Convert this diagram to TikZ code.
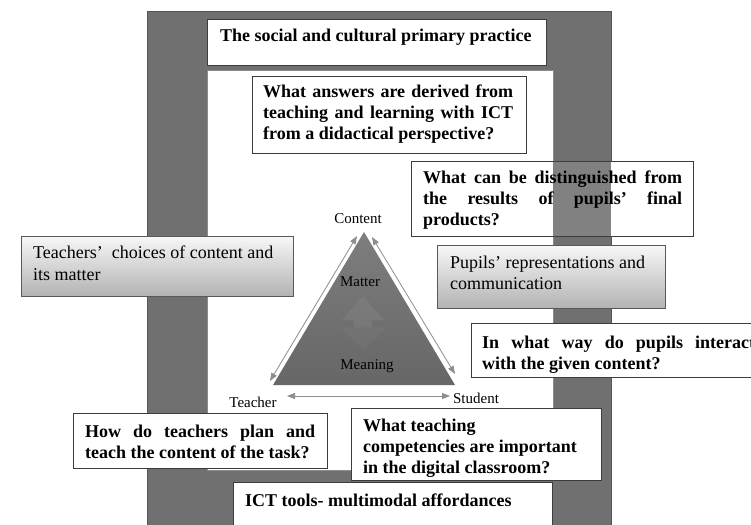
\documentclass[tikz,border=0pt]{standalone}
\usepackage{fontspec}
\setmainfont{Liberation Serif}
\usetikzlibrary{arrows.meta,fit}

\definecolor{framegray}{HTML}{707070}
\definecolor{frameline}{HTML}{555555}
\definecolor{boxline}{HTML}{3C3C3C}
\definecolor{arrowgray}{HTML}{8E8E8E}
\definecolor{trianglegray}{HTML}{6C6C6C}

% a line stretched to a given width (justified line)
\newcommand\fullline[2]{\makebox[#1][s]{#2}}

\tikzset{
  panel/.style={draw=boxline, line width=0.9pt, fill=white, inner sep=0pt},
  shadedpanel/.style={draw=boxline!85, line width=0.9pt, inner sep=0pt,
    top color=white!97!black, bottom color=black!30},
  boldtext/.style={font=\fontsize{18}{21}\selectfont\bfseries, inner sep=0pt, align=left, anchor=north west},
  plaintext/.style={font=\fontsize{18}{21.5}\selectfont, inner sep=0pt, align=left, anchor=north west},
  cornerlabel/.style={font=\fontsize{15}{17}\selectfont, inner sep=0pt},
  twoway/.style={draw=arrowgray, line width=0.8pt,
    {Triangle[length=8pt,width=6pt]}-{Triangle[length=8pt,width=6pt]}},
}

\begin{document}
\begin{tikzpicture}[x=1pt,y=-1pt]
\useasboundingbox (0,0) rectangle (751,524);

% outer grey frame and inner white field
\node[fit={(147,12) (611,545)}, fill=framegray, draw=frameline, line width=1pt, inner sep=0pt] (frame) {};
\node[fit={(207,70) (553,470)}, fill=white, draw=black!45, line width=0.8pt, inner sep=0pt] (field) {};

% title bar
\node[panel, fit={(207,19) (546,65)}] (titlebox) {};
\node[font=\fontsize{18}{21}\selectfont\bfseries, inner sep=0pt, anchor=base west] (titletext) at (220,41.5)
  {The social and cultural primary practice};

% question: answers from a didactical perspective
\node[panel, fit={(252,76) (526,153)}] (answersbox) {};
\node[boldtext] (answerstext) at (263,84.7)
  {\fullline{250pt}{What answers are derived from}\\
   \fullline{250pt}{teaching and learning with ICT}\\
   from a didactical perspective?};

% question: pupils' final products (partly covered by the frame)
\node[panel, fit={(411,161) (693,236)}] (productsbox) {};
\fill[framegray, opacity=0.88] (553,161.5) rectangle (611,235.5);
\node[boldtext] (productstext) at (423,170.7)
  {\fullline{259pt}{What can be distinguished from}\\
   \fullline{259pt}{the results of pupils’ final}\\
   products?};

% teachers' choices
\node[shadedpanel, fit={(21,236) (293,296)}] (choicesbox) {};
\node[plaintext] (choicestext) at (33,246)
  {Teachers’\ \ choices of content and\\its matter};

% pupils' representations
\node[shadedpanel, fit={(437,245) (665,308)}] (reprbox) {};
\node[plaintext] (reprtext) at (450,255.8)
  {Pupils’ representations and\\communication};

% pupils' interaction
\node[panel, fit={(471,323) (790,377)}] (interactbox) {};
\node[boldtext] (interacttext) at (482,335.7)
  {\fullline{273pt}{In what way do pupils interact}\\
   with the given content?};

% didactic triangle
\coordinate (apex) at (364,232);
\coordinate (baseL) at (273,385);
\coordinate (baseR) at (455,385);
\shade[top color=trianglegray!88!white, bottom color=trianglegray!95!black]
  (apex) -- (baseL) -- (baseR) -- cycle;

% faint two-way arrow inside the triangle
\fill[white, opacity=0.06]
  (363,296) -- (384,320) -- (372,320) -- (372,327) -- (354,327) -- (354,320) -- (342,320) -- cycle;
\fill[white, opacity=0.03]
  (354,327) -- (340,327) -- (363,350) -- (386,327) -- (372,327) -- cycle;

\node[cornerlabel] (content) at (358,219) {Content};
\node[cornerlabel] (matter) at (360,282) {Matter};
\node[cornerlabel] (meaning) at (367,366) {Meaning};
\node[cornerlabel] (teacher) at (253,402) {Teacher};
\node[cornerlabel] (student) at (476,398) {Student};

% two-way arrows along the sides
\coordinate (leftTop) at (357,236);
\coordinate (leftBottom) at (270,381);
\coordinate (rightTop) at (372,237);
\coordinate (rightBottom) at (455,374);
\coordinate (baseStart) at (287,396);
\coordinate (baseEnd) at (450,396);
\draw[twoway] (leftTop) -- (leftBottom);
\draw[twoway] (rightTop) -- (rightBottom);
\draw[twoway] (baseStart) -- (baseEnd);

% question: teachers' planning
\node[panel, fit={(73,413) (327,468)}] (planbox) {};
\node[boldtext] (plantext) at (85,424.7)
  {\fullline{230pt}{How do teachers plan and}\\
   teach the content of the task?};

% question: teaching competencies
\node[panel, fit={(351,408) (601,480)}] (competencebox) {};
\node[boldtext] (competencetext) at (363,418.7)
  {What teaching\\competencies are important\\in the digital classroom?};

% ICT tools bar
\node[panel, fit={(233,482) (552,540)}] (toolsbox) {};
\node[font=\fontsize{18}{21}\selectfont\bfseries, inner sep=0pt, anchor=base west] (toolstext) at (245,506)
  {ICT tools- multimodal affordances};
\end{tikzpicture}
\end{document}
